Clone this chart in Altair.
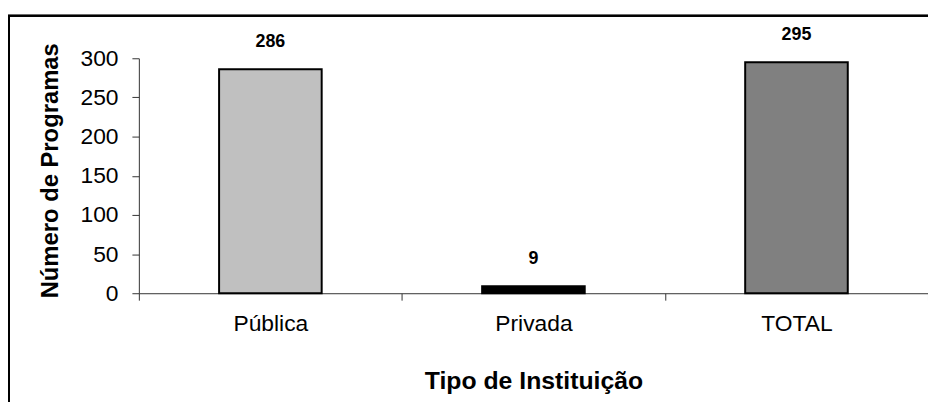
import altair as alt
import pandas as pd

categorias = ["Pública", "Privada", "TOTAL"]
valores = [286, 9, 295]
cores = ["#C0C0C0", "#000000", "#808080"]
ticks_y = [0, 50, 100, 150, 200, 250, 300]

df = pd.DataFrame({"tipo": categorias, "n": valores, "cor": cores})

FONT = "Liberation Sans"

x_enc = alt.X(
    "tipo:N",
    sort=categorias,
    scale=alt.Scale(paddingInner=0, paddingOuter=0),
    axis=alt.Axis(
        title="Tipo de Instituição",
        labelAngle=0,
        tickBand="extent",
        tickSize=7,
        labelPadding=13,
        labelFontSize=23,
        labelFont=FONT,
        labelColor="#000000",
        titleFont=FONT,
        titleFontSize=25,
        titleFontWeight="bold",
        titleColor="#000000",
        titleY=88,
        titleBaseline="middle",
        domainColor="#333333",
        tickColor="#333333",
    ),
)
y_enc = alt.Y(
    "n:Q",
    scale=alt.Scale(domain=[0, 300], nice=False),
    axis=alt.Axis(
        title="Número de Programas",
        values=ticks_y,
        labelOverlap=False,
        grid=False,
        tickSize=7,
        labelPadding=14,
        labelFontSize=23,
        labelFont=FONT,
        labelColor="#000000",
        titleFont=FONT,
        titleFontSize=24,
        titleFontWeight="bold",
        titleColor="#000000",
        titleX=-89,
        titleY=113,
        titleAngle=-90,
        titleBaseline="middle",
        titleAlign="center",
        domainColor="#333333",
        tickColor="#333333",
    ),
)

base = alt.Chart(df).encode(x=x_enc, y=y_enc)

bars = base.mark_bar(
    width=alt.RelativeBandSize(0.39), stroke="#000000", strokeWidth=2
).encode(
    fill=alt.Fill("cor:N", scale=None, legend=None),
)

labels = base.mark_text(
    font=FONT, fontSize=18, fontWeight="bold", baseline="middle", dy=-27, color="#000000"
).encode(
    text=alt.Text("n:Q"),
)

frame = alt.Chart(df).mark_rect(
    fill=None, stroke="#000000", strokeWidth=2
).encode(
    x=alt.value(-131), x2=alt.value(850), y=alt.value(-43), y2=alt.value(360)
)

chart = alt.layer(frame, bars, labels).properties(
    width=796,
    height=237,
    padding={"left": 132, "top": 49, "right": 0, "bottom": 108},
    autosize=alt.AutoSizeParams(type="none"),
).configure_view(stroke=None)

chart.save("out.html", embed_options={"renderer": "svg", "actions": False})
